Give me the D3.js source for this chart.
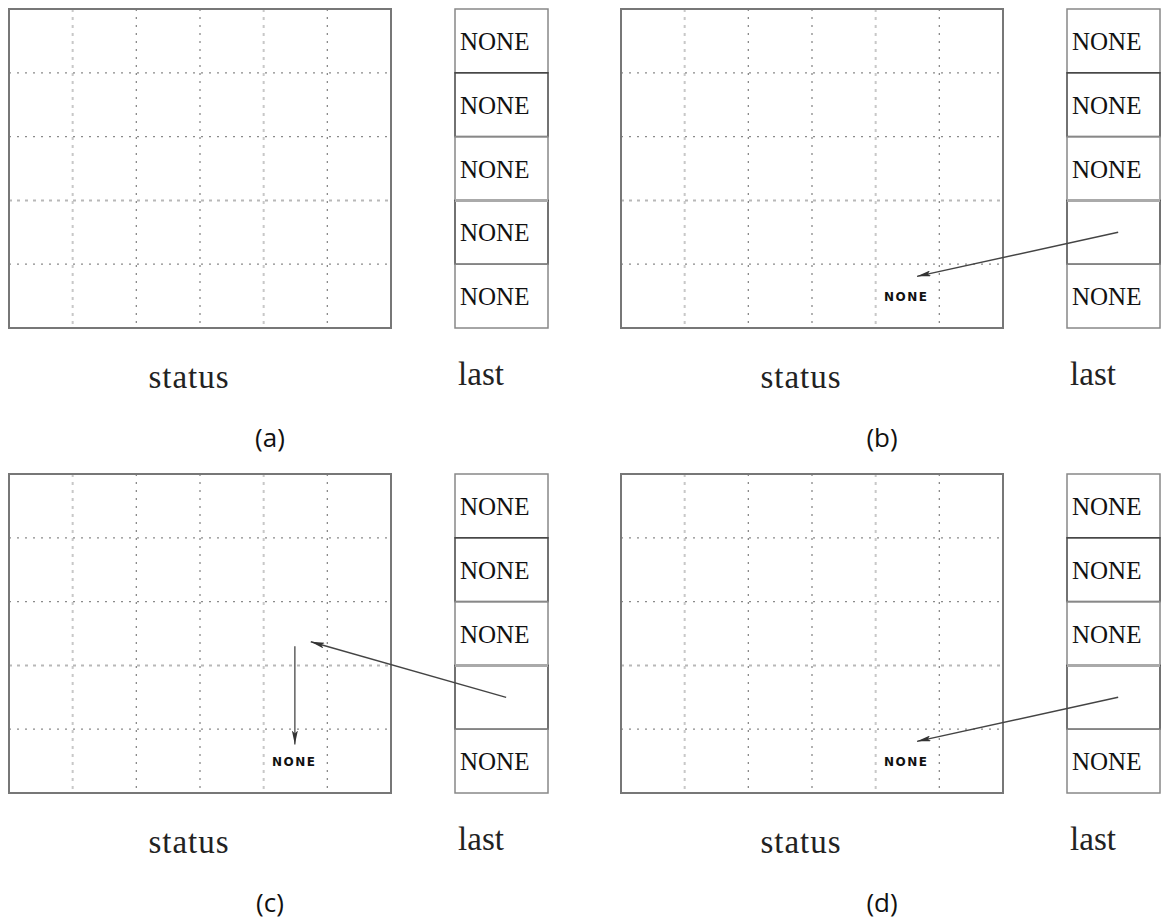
<!DOCTYPE html>
<html><head><meta charset="utf-8">
<script src="https://cdn.jsdelivr.net/npm/d3@7"></script>
<style>body{margin:0;background:#fff}svg{display:block}</style>
</head><body>
<svg id="c" width="1161" height="921"></svg>
<script>
// ---- data ----
const panelLabels = ["(a)", "(b)", "(c)", "(d)"];
const gridColumns = [0, 1, 2, 3, 4, 5, 6];
const gridRows = [0, 1, 2, 3, 4, 5];
const lightColumns = [1, 4];
const lightRows = [3];
const listA = ["NONE", "NONE", "NONE", "NONE", "NONE"];
const listB = ["NONE", "NONE", "NONE", "", "NONE"];
const listC = ["NONE", "NONE", "NONE", "", "NONE"];
const listD = ["NONE", "NONE", "NONE", "", "NONE"];
const highlightSlot = 3;
// arrows: from list slot (fraction across list) to grid (col,row)
const arrowsA = [];
const arrowsB = [{fromSlot: 3.5, fromFrac: 0.55, toCol: 4.65, toRow: 4.19}];
const arrowsC = [{fromSlot: 3.5, fromFrac: 0.55, toCol: 4.74, toRow: 2.63}];
const arrowsD = [{fromSlot: 3.5, fromFrac: 0.55, toCol: 4.65, toRow: 4.19}];
// grid-internal arrows (col,row -> col,row)
const innerA = [], innerB = [], innerD = [];
const innerC = [{c0: 4.49, r0: 2.7, c1: 4.49, r1: 4.24}];
// small moved labels
const smallA = [];
const smallB = [{col: 4.48, row: 4.5, text: "NONE"}];
const smallC = [{col: 4.48, row: 4.5, text: "NONE"}];
const smallD = [{col: 4.48, row: 4.5, text: "NONE"}];
const statusTitle = "status";
const listTitle = "last";

const panels = [
  {label: panelLabels[0], list: listA, arrows: arrowsA, inner: innerA, small: smallA},
  {label: panelLabels[1], list: listB, arrows: arrowsB, inner: innerB, small: smallB},
  {label: panelLabels[2], list: listC, arrows: arrowsC, inner: innerC, small: smallC},
  {label: panelLabels[3], list: listD, arrows: arrowsD, inner: innerD, small: smallD}
];

const SERIF = "'Liberation Serif', 'DejaVu Serif', serif";

// ---- layout ----
const svg = d3.select("#c");
const defs = svg.append("defs");
defs.append("marker").attr("id", "ah").attr("viewBox", "0 0 14 6")
  .attr("refX", 14).attr("refY", 3).attr("markerWidth", 14).attr("markerHeight", 6)
  .attr("markerUnits", "userSpaceOnUse").attr("orient", "auto")
  .append("path").attr("d", "M0,0 L14,3 L0,6 L3,3 Z").attr("fill", "#333");

const panelX = d3.scaleOrdinal().domain([0, 1]).range([0, 612]);
const panelY = d3.scaleOrdinal().domain([0, 1]).range([0, 465]);

panels.forEach((p, i) => {
  const g = svg.append("g").attr("transform", `translate(${panelX(i % 2)},${panelY(Math.floor(i / 2))})`);
  const x = d3.scaleLinear().domain([0, 6]).range([9, 391]);
  const y = d3.scaleLinear().domain([0, 5]).range([9, 328]);
  const lx = d3.scaleLinear().domain([0, 1]).range([455, 548]);

  // grid
  gridColumns.slice(1, -1).forEach(c => {
    const light = lightColumns.includes(c);
    g.append("line").attr("x1", x(c)).attr("x2", x(c)).attr("y1", y(0)).attr("y2", y(5))
      .attr("stroke", light ? "#c8c8c8" : "#8a8a8a").attr("stroke-width", light ? 2 : 1.3)
      .attr("stroke-dasharray", light ? "3,5" : "2,6");
  });
  gridRows.slice(1, -1).forEach(r => {
    const light = lightRows.includes(r);
    g.append("line").attr("y1", y(r)).attr("y2", y(r)).attr("x1", x(0)).attr("x2", x(6))
      .attr("stroke", light ? "#b8b8b8" : "#8a8a8a").attr("stroke-width", light ? 2 : 1.3)
      .attr("stroke-dasharray", light ? "3,5" : "2,6");
  });
  g.append("rect").attr("x", x(0)).attr("y", y(0)).attr("width", x(6) - x(0)).attr("height", y(5) - y(0))
    .attr("fill", "none").attr("stroke", "#777").attr("stroke-width", 2);

  // list
  p.list.forEach((v, k) => {
    g.append("rect").attr("x", lx(0)).attr("y", y(k)).attr("width", lx(1) - lx(0)).attr("height", y(k + 1) - y(k))
      .attr("fill", "none").attr("stroke", (k === 1 || k === 3) ? "#444" : "#888").attr("stroke-width", 1.5);
    if (v) g.append("text").attr("x", lx(0) + 5).attr("y", (y(k) + y(k + 1)) / 2 + 9)
      .attr("font-family", SERIF).attr("font-size", 25).attr("fill", "#111").text(v);
  });
  g.append("line").attr("x1", lx(0)).attr("x2", lx(1)).attr("y1", y(highlightSlot)).attr("y2", y(highlightSlot))
    .attr("stroke", "#aaa").attr("stroke-width", 3);

  // arrows
  p.arrows.forEach(a => {
    g.append("line").attr("x1", lx(a.fromFrac)).attr("y1", y(a.fromSlot))
      .attr("x2", x(a.toCol)).attr("y2", y(a.toRow))
      .attr("stroke", "#444").attr("stroke-width", 1.4).attr("marker-end", "url(#ah)");
  });
  p.inner.forEach(a => {
    g.append("line").attr("x1", x(a.c0)).attr("y1", y(a.r0)).attr("x2", x(a.c1)).attr("y2", y(a.r1))
      .attr("stroke", "#555").attr("stroke-width", 1.4).attr("marker-end", "url(#ah)");
  });
  p.small.forEach(s => {
    g.append("text").attr("x", x(s.col)).attr("y", y(s.row) + 5).attr("text-anchor", "middle")
      .attr("font-family", "DejaVu Sans").attr("font-size", 12).attr("font-weight", "bold")
      .attr("letter-spacing", 1.5).attr("fill", "#111").text(s.text);
  });

  // titles
  g.append("text").attr("x", 189).attr("y", 388).attr("text-anchor", "middle")
    .attr("font-family", SERIF).attr("font-size", 33).attr("letter-spacing", 1)
    .attr("fill", "#222").text(statusTitle);
  g.append("text").attr("x", 481).attr("y", 385).attr("text-anchor", "middle")
    .attr("font-family", SERIF).attr("font-size", 33)
    .attr("fill", "#222").text(listTitle);
  g.append("text").attr("x", 270).attr("y", 447).attr("text-anchor", "middle")
    .attr("font-family", "'Open Sans', 'Noto Sans', sans-serif").attr("font-size", 26)
    .attr("fill", "#111").text(p.label);
});
</script>
</body></html>
